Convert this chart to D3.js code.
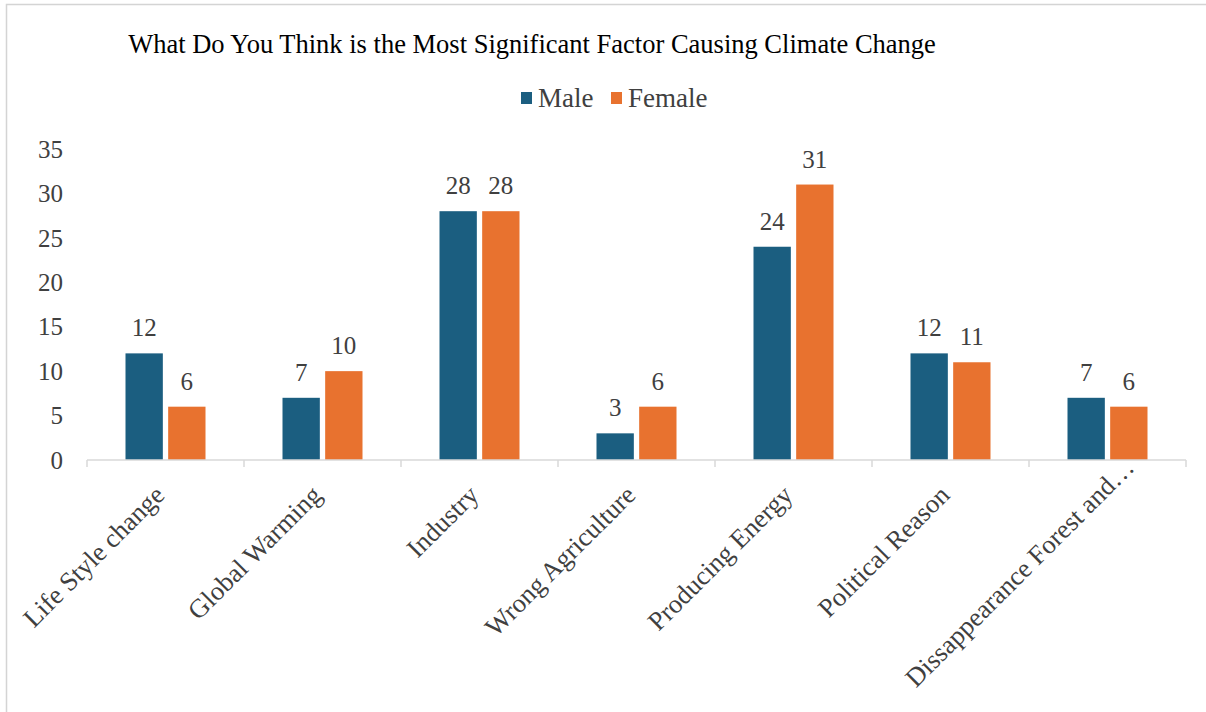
<!DOCTYPE html>
<html>
<head>
<meta charset="utf-8">
<script src="https://cdn.jsdelivr.net/npm/d3@7"></script>
<style>
  body { margin: 0; background: #fff; }
  text { font-family: "Times New Roman", "Liberation Serif", serif; fill: #404040; }
</style>
</head>
<body>
<div id="chart"></div>
<script>
// survey answers by gender
var categories = ["Life Style change", "Global Warming", "Industry", "Wrong Agriculture",
                  "Producing Energy", "Political Reason", "Dissappearance Forest and\u2026"];
var male   = [12, 7, 28, 3, 24, 12, 7];
var female = [6, 10, 28, 6, 31, 11, 6];
var seriesNames = ["Male", "Female"];
var yTicks = [0, 5, 10, 15, 20, 25, 30, 35];

var colors = { Male: "#1b5e80", Female: "#e8722f" };

var width = 1206, height = 712;
var margin = { top: 149, right: 20, bottom: 252, left: 87 };

var svg = d3.select("#chart").append("svg")
    .attr("width", width)
    .attr("height", height);

// light frame around the chart
svg.append("rect")
    .attr("x", 6.5).attr("y", 4.5)
    .attr("width", width + 20).attr("height", height + 20)
    .attr("fill", "none")
    .attr("stroke", "#d4d4d4")
    .attr("stroke-width", 1.5);

svg.append("text")
    .attr("x", 532).attr("y", 53)
    .attr("text-anchor", "middle")
    .style("font-size", "26.5px")
    .style("fill", "#000")
    .text("What Do You Think is the Most Significant Factor Causing Climate Change");

var x0 = d3.scaleBand()
    .domain(categories)
    .range([margin.left, width - margin.right]);

var x1 = d3.scaleBand()
    .domain(seriesNames)
    .range([0, 80])
    .paddingInner(0.125);

var y = d3.scaleLinear()
    .domain([0, 35])
    .range([height - margin.bottom, margin.top]);

// y labels, no axis line
svg.append("g")
    .selectAll("text")
    .data(yTicks)
    .enter().append("text")
    .attr("x", 63)
    .attr("y", function(d) { return y(d); })
    .attr("dy", "0.35em")
    .attr("text-anchor", "end")
    .style("font-size", "25px")
    .text(function(d) { return d; });

var groups = svg.append("g")
    .selectAll("g")
    .data(categories)
    .enter().append("g")
    .attr("transform", function(d) {
      return "translate(" + (x0(d) + (x0.bandwidth() - 80) / 2) + ",0)";
    });

var rows = function(d, i) {
  return [{ key: "Male", value: male[i] }, { key: "Female", value: female[i] }];
};

groups.selectAll("rect")
    .data(rows)
    .enter().append("rect")
    .attr("x", function(d) { return x1(d.key); })
    .attr("y", function(d) { return y(d.value); })
    .attr("width", x1.bandwidth())
    .attr("height", function(d) { return y(0) - y(d.value); })
    .attr("fill", function(d) { return colors[d.key]; });

groups.selectAll("text")
    .data(rows)
    .enter().append("text")
    .attr("x", function(d) { return x1(d.key) + x1.bandwidth() / 2; })
    .attr("y", function(d) { return y(d.value) - 17; })
    .attr("text-anchor", "middle")
    .style("font-size", "25px")
    .text(function(d) { return d.value; });

// x axis with ticks between categories
var xAxis = svg.append("g")
    .attr("transform", "translate(0," + y(0) + ")");

xAxis.append("line")
    .attr("x1", x0.range()[0]).attr("x2", x0.range()[1])
    .attr("stroke", "#d9d9d9").attr("stroke-width", 1.5);

xAxis.selectAll(".tick")
    .data(categories.concat([null]))
    .enter().append("line")
    .attr("class", "tick")
    .attr("x1", function(d) { return d === null ? x0.range()[1] : x0(d); })
    .attr("x2", function(d) { return d === null ? x0.range()[1] : x0(d); })
    .attr("y1", 0).attr("y2", 7)
    .attr("stroke", "#d9d9d9").attr("stroke-width", 1.5);

var labelY = 30;
var maxBottom = height - y(0) - 30;
xAxis.selectAll(".cat")
    .data(categories)
    .enter().append("text")
    .attr("class", "cat")
    .attr("text-anchor", "end")
    .style("font-size", "26.5px")
    .attr("dy", "0.35em")
    .text(function(d) { return d; })
    .attr("transform", function(d) {
      // long labels slide up along their diagonal so they stay inside the frame
      var len = this.getComputedTextLength();
      var drop = labelY + len * Math.SQRT1_2;
      var shift = Math.max(0, drop - maxBottom);
      return "translate(" + (x0(d) + x0.bandwidth() / 2 - 6 + shift) + "," +
             (labelY - shift) + ") rotate(-45)";
    });

// legend
var legend = svg.append("g").attr("transform", "translate(521,98)");
var legendX = [0, 90];
seriesNames.forEach(function(name, i) {
  var item = legend.append("g").attr("transform", "translate(" + legendX[i] + ",0)");
  item.append("rect")
      .attr("x", 0).attr("y", -6)
      .attr("width", 11).attr("height", 12)
      .attr("fill", colors[name]);
  item.append("text")
      .attr("x", 17).attr("y", 0)
      .attr("dy", "0.35em")
      .style("font-size", "27px")
      .text(name);
});
</script>
</body>
</html>
